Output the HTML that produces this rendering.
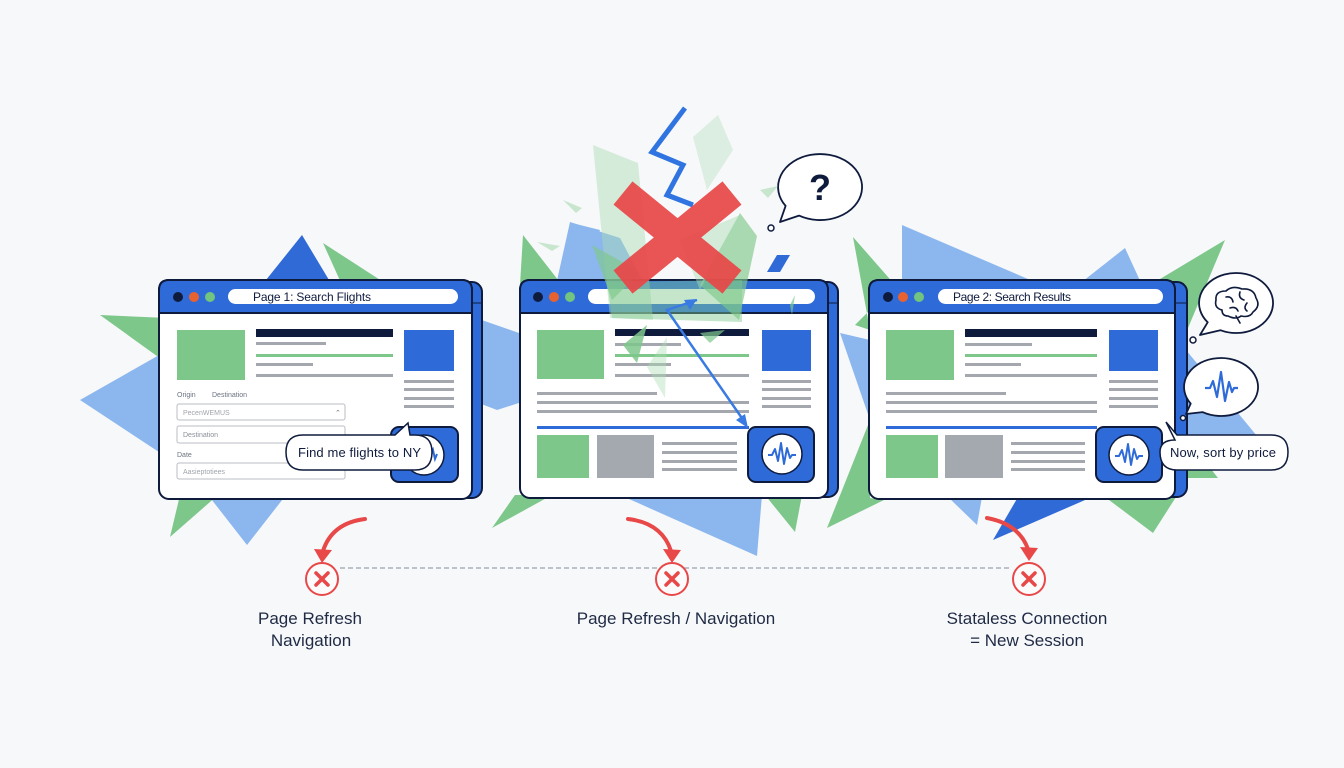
<!DOCTYPE html>
<html><head><meta charset="utf-8"><style>
html,body{margin:0;padding:0;background:#f7f8fa;}
svg{display:block;}
text{font-family:"Liberation Sans",sans-serif;}
</style></head><body>
<svg width="1344" height="768" viewBox="0 0 1344 768" xmlns="http://www.w3.org/2000/svg">
<rect width="1344" height="768" fill="#f7f8fa"/>

<!-- ===== background shards: left ===== -->
<polygon points="100,315 168,318 168,364" fill="#7ec78b"/>
<polygon points="80,400 168,350 168,458" fill="#8cb7ee"/>
<polygon points="302,235 262,285 332,285" fill="#2f6ad6"/>
<polygon points="323,243 388,285 342,285" fill="#7ec78b"/>
<polygon points="170,537 180,495 218,495" fill="#7ec78b"/>
<polygon points="247,545 208,495 286,495" fill="#8cb7ee"/>
<polygon points="476,318 522,334 522,402 497,410 476,402" fill="#8cb7ee"/>

<!-- ===== background shards: middle ===== -->
<polygon points="523,235 562,285 520,285" fill="#7ec78b"/>
<polygon points="570,222 620,238 645,285 556,285" fill="#8cb7ee"/>
<polygon points="572,223 600,230 590,260" fill="#8cb7ee"/>
<polygon points="620,495 762,495 757,556" fill="#8cb7ee"/>
<polygon points="492,528 515,495 552,495" fill="#7ec78b"/>
<polygon points="765,495 802,495 795,532" fill="#7ec78b"/>

<!-- ===== background shards: right ===== -->
<polygon points="853,237 895,285 855,325 870,330" fill="#7ec78b"/>
<polygon points="902,225 1042,285 902,285" fill="#8cb7ee"/>
<polygon points="1125,248 1142,285 1078,285" fill="#8cb7ee"/>
<polygon points="1225,240 1150,285 1188,328" fill="#7ec78b"/>
<polygon points="840,333 870,340 870,420" fill="#8cb7ee"/>
<polygon points="827,528 870,420 870,498 884,500" fill="#7ec78b"/>
<polygon points="1186,350 1257,436 1188,440" fill="#8cb7ee"/>
<polygon points="1186,437 1218,478 1186,478" fill="#7ec78b"/>
<polygon points="993,540 1018,497 1092,497" fill="#2f6ad6"/>
<polygon points="948,497 982,497 977,525" fill="#8cb7ee"/>
<polygon points="1153,533 1105,497 1176,497" fill="#7ec78b"/>

<!-- ===== LEFT BROWSER ===== -->
<rect x="167" y="282" width="315" height="216" rx="10" fill="#2e6bd9" stroke="#0f1b3d" stroke-width="2"/>
<line x1="472" y1="303" x2="481" y2="303" stroke="#0f1b3d" stroke-width="1"/>
<rect x="159" y="280" width="313" height="219" rx="10" fill="#ffffff" stroke="#0f1b3d" stroke-width="2"/>
<path d="M159,313 V290 Q159,280 169,280 H462 Q472,280 472,290 V313 Z" fill="#2e6bd9" stroke="#0f1b3d" stroke-width="2"/>
<circle cx="178" cy="297" r="5" fill="#0f1b3d"/>
<circle cx="194" cy="297" r="5" fill="#e8622f"/>
<circle cx="210" cy="297" r="5" fill="#72c47f"/>
<rect x="228" y="289" width="230" height="15" rx="7.5" fill="#ffffff"/>
<text x="253" y="301" font-size="12" fill="#0f1b3d" textLength="118">Page 1: Search Flights</text>

<rect x="177" y="330" width="68" height="50" fill="#7ec78b"/>
<rect x="256" y="329" width="137" height="8" fill="#0f1b3d"/>
<rect x="256" y="342" width="70" height="3" fill="#a4a8ae"/>
<rect x="256" y="354" width="137" height="3" fill="#7ec78b"/>
<rect x="256" y="363" width="57" height="3" fill="#a4a8ae"/>
<rect x="256" y="374" width="137" height="3" fill="#a4a8ae"/>
<rect x="404" y="330" width="50" height="41" fill="#2e6bd9"/>
<rect x="404" y="380" width="50" height="3" fill="#a4a8ae"/>
<rect x="404" y="388" width="50" height="3" fill="#a4a8ae"/>
<rect x="404" y="397" width="50" height="3" fill="#a4a8ae"/>
<rect x="404" y="405" width="50" height="3" fill="#a4a8ae"/>

<text x="177" y="397" font-size="7" fill="#6b7280">Origin</text>
<text x="212" y="397" font-size="7" fill="#6b7280">Destination</text>
<rect x="177" y="404" width="168" height="16" rx="2" fill="#fff" stroke="#b9bec5" stroke-width="1"/>
<text x="183" y="415" font-size="7" fill="#a0a5ab">PecenWEMUS</text>
<text x="335" y="415" font-size="7" fill="#6b7280">⌃</text>
<rect x="177" y="426" width="168" height="17" rx="2" fill="#fff" stroke="#b9bec5" stroke-width="1"/>
<text x="183" y="437" font-size="7" fill="#8a9097">Destination</text>
<text x="177" y="457" font-size="7" fill="#6b7280">Date</text>
<rect x="177" y="463" width="168" height="16" rx="2" fill="#fff" stroke="#b9bec5" stroke-width="1"/>
<text x="183" y="474" font-size="7" fill="#a0a5ab">Aasieptotiees</text>

<rect x="391" y="427" width="67" height="55" rx="8" fill="#2e6bd9" stroke="#0f1b3d" stroke-width="2"/>
<circle cx="424" cy="455" r="20" fill="#fff" stroke="#0f1b3d" stroke-width="1.5"/>
<polyline points="428,455 431,455 433,450 435,459 437,454" fill="none" stroke="#2e6bd9" stroke-width="2"/>
<path d="M303,435 H395 L408,423 L410,435 H415 Q432,435 432,452 Q432,470 415,470 H303 Q286,470 286,452 Q286,435 303,435 Z" fill="#fff" stroke="#0f1b3d" stroke-width="1.5"/>
<text x="298" y="457" font-size="13" fill="#0f1b3d" textLength="123">Find me flights to NY</text>

<!-- ===== MIDDLE BROWSER ===== -->
<rect x="527" y="282" width="311" height="215" rx="10" fill="#2e6bd9" stroke="#0f1b3d" stroke-width="2"/>
<line x1="828" y1="303" x2="837" y2="303" stroke="#0f1b3d" stroke-width="1"/>
<rect x="520" y="280" width="308" height="218" rx="10" fill="#fff" stroke="#0f1b3d" stroke-width="2"/>
<path d="M520,313 V290 Q520,280 530,280 H818 Q828,280 828,290 V313 Z" fill="#2e6bd9" stroke="#0f1b3d" stroke-width="2"/>
<circle cx="538" cy="297" r="5" fill="#0f1b3d"/>
<circle cx="554" cy="297" r="5" fill="#e8622f"/>
<circle cx="570" cy="297" r="5" fill="#72c47f"/>
<rect x="588" y="289" width="227" height="15" rx="7.5" fill="#fff"/>
<g transform="translate(520,0)">
<rect x="17" y="330" width="67" height="49" fill="#7ec78b"/>
<rect x="95" y="329" width="134" height="7" fill="#0f1b3d"/>
<rect x="95" y="343" width="66" height="3" fill="#a4a8ae"/>
<rect x="95" y="354" width="134" height="3" fill="#7ec78b"/>
<rect x="95" y="363" width="56" height="3" fill="#a4a8ae"/>
<rect x="95" y="374" width="134" height="3" fill="#a4a8ae"/>
<rect x="242" y="330" width="49" height="41" fill="#2e6bd9"/>
<rect x="242" y="380" width="49" height="3" fill="#a4a8ae"/>
<rect x="242" y="388" width="49" height="3" fill="#a4a8ae"/>
<rect x="242" y="397" width="49" height="3" fill="#a4a8ae"/>
<rect x="242" y="405" width="49" height="3" fill="#a4a8ae"/>
<rect x="17" y="392" width="120" height="3" fill="#a4a8ae"/>
<rect x="17" y="401" width="212" height="3" fill="#a4a8ae"/>
<rect x="17" y="410" width="212" height="3" fill="#a4a8ae"/>
<rect x="17" y="426" width="212" height="3" fill="#2e6bd9"/>
<rect x="17" y="435" width="52" height="43" fill="#7ec78b"/>
<rect x="77" y="435" width="57" height="43" fill="#a4a9b0"/>
<rect x="142" y="442" width="75" height="3" fill="#a4a8ae"/>
<rect x="142" y="451" width="75" height="3" fill="#a4a8ae"/>
<rect x="142" y="460" width="75" height="3" fill="#a4a8ae"/>
<rect x="142" y="468" width="75" height="3" fill="#a4a8ae"/>
<rect x="228" y="427" width="66" height="55" rx="8" fill="#2e6bd9" stroke="#0f1b3d" stroke-width="2"/>
<circle cx="262" cy="454" r="20" fill="#fff" stroke="#0f1b3d" stroke-width="1.5"/>
<polyline points="248,455 252,455 255,449 258,461 261,443 264,464 267,448 270,458 272,455 276,455" fill="none" stroke="#2e6bd9" stroke-width="2" stroke-linejoin="round"/>
</g>

<!-- ===== RIGHT BROWSER ===== -->
<rect x="876" y="282" width="311" height="215" rx="10" fill="#2e6bd9" stroke="#0f1b3d" stroke-width="2"/>
<line x1="1175" y1="303" x2="1186" y2="303" stroke="#0f1b3d" stroke-width="1"/>
<rect x="869" y="280" width="306" height="219" rx="10" fill="#fff" stroke="#0f1b3d" stroke-width="2"/>
<path d="M869,313 V290 Q869,280 879,280 H1165 Q1175,280 1175,290 V313 Z" fill="#2e6bd9" stroke="#0f1b3d" stroke-width="2"/>
<circle cx="888" cy="297" r="5" fill="#0f1b3d"/>
<circle cx="903" cy="297" r="5" fill="#e8622f"/>
<circle cx="919" cy="297" r="5" fill="#72c47f"/>
<rect x="938" y="289" width="225" height="15" rx="7.5" fill="#fff"/>
<text x="953" y="301" font-size="12" fill="#0f1b3d" textLength="118">Page 2: Search Results</text>
<g transform="translate(869,0)">
<rect x="17" y="330" width="68" height="50" fill="#7ec78b"/>
<rect x="96" y="329" width="132" height="8" fill="#0f1b3d"/>
<rect x="96" y="343" width="67" height="3" fill="#a4a8ae"/>
<rect x="96" y="354" width="132" height="3" fill="#7ec78b"/>
<rect x="96" y="363" width="56" height="3" fill="#a4a8ae"/>
<rect x="96" y="374" width="132" height="3" fill="#a4a8ae"/>
<rect x="240" y="330" width="49" height="41" fill="#2e6bd9"/>
<rect x="240" y="380" width="49" height="3" fill="#a4a8ae"/>
<rect x="240" y="388" width="49" height="3" fill="#a4a8ae"/>
<rect x="240" y="397" width="49" height="3" fill="#a4a8ae"/>
<rect x="240" y="405" width="49" height="3" fill="#a4a8ae"/>
<rect x="17" y="392" width="120" height="3" fill="#a4a8ae"/>
<rect x="17" y="401" width="211" height="3" fill="#a4a8ae"/>
<rect x="17" y="410" width="211" height="3" fill="#a4a8ae"/>
<rect x="17" y="426" width="211" height="3" fill="#2e6bd9"/>
<rect x="17" y="435" width="52" height="43" fill="#7ec78b"/>
<rect x="76" y="435" width="58" height="43" fill="#a4a9b0"/>
<rect x="142" y="442" width="74" height="3" fill="#a4a8ae"/>
<rect x="142" y="451" width="74" height="3" fill="#a4a8ae"/>
<rect x="142" y="460" width="74" height="3" fill="#a4a8ae"/>
<rect x="142" y="468" width="74" height="3" fill="#a4a8ae"/>
<rect x="227" y="427" width="66" height="55" rx="8" fill="#2e6bd9" stroke="#0f1b3d" stroke-width="2"/>
<circle cx="260" cy="455" r="20" fill="#fff" stroke="#0f1b3d" stroke-width="1.5"/>
<polyline points="246,456 250,456 253,450 256,462 259,444 262,465 265,449 268,459 270,456 274,456" fill="none" stroke="#2e6bd9" stroke-width="2" stroke-linejoin="round"/>
</g>
<path d="M1177,435 L1166,422 L1175,440 Q1160,440 1160,452 Q1160,470 1177,470 H1271 Q1288,470 1288,452 Q1288,435 1271,435 Z" fill="#fff" stroke="#0f1b3d" stroke-width="1.5"/>
<text x="1170" y="457" font-size="13" fill="#0f1b3d" textLength="106">Now, sort by price</text>

<!-- brain bubble -->
<path d="M1207.7,322.3 L1200,335 L1220.4,330.2 A37,30 0 1,0 1207.7,322.3 Z" fill="#fff" stroke="#0f1b3d" stroke-width="1.8" stroke-linejoin="round"/>
<circle cx="1193" cy="340" r="3" fill="#fff" stroke="#0f1b3d" stroke-width="1.5"/>
<g fill="none" stroke="#0f1b3d" stroke-width="1.6" stroke-linecap="round">
<path d="M1222,310 Q1214,308 1216,300 Q1215,291 1226,291 Q1232,285 1242,289 Q1254,288 1256,298 Q1261,306 1253,312 Q1250,318 1241,316 Q1236,320 1228,316 Q1222,316 1222,310 Z"/>
<path d="M1236,316 L1240,323"/>
<path d="M1226,297 Q1232,296 1233,302"/>
<path d="M1240,292 Q1238,298 1244,300"/>
<path d="M1247,303 Q1243,308 1247,311"/>
<path d="M1230,308 Q1236,306 1238,311"/>
</g>

<!-- wave bubble -->
<path d="M1190.7,403.6 L1186,414 L1202.5,412.1 A37,29 0 1,0 1190.7,403.6 Z" fill="#fff" stroke="#0f1b3d" stroke-width="1.8" stroke-linejoin="round"/>
<circle cx="1183" cy="418" r="2.5" fill="#fff" stroke="#0f1b3d" stroke-width="1.5"/>
<polyline points="1205,388 1210,388 1213,381 1217,397 1221,372 1225,401 1229,382 1232,392 1234,388 1238,388" fill="none" stroke="#2e6bd9" stroke-width="2.2" stroke-linejoin="round"/>

<!-- question bubble -->
<path d="M785.6,205.9 L780,222 L799,215.6 A42,33 0 1,0 785.6,205.9 Z" fill="#fff" stroke="#0f1b3d" stroke-width="1.8" stroke-linejoin="round"/>
<circle cx="771" cy="228" r="3" fill="#fff" stroke="#0f1b3d" stroke-width="1.5"/>
<text x="820" y="200" font-size="36" font-weight="bold" fill="#0f1b3d" text-anchor="middle">?</text>

<!-- ===== chaos over middle browser ===== -->
<polygon points="593,145 638,163 653,320 610,318" fill="#a9dbb1" opacity="0.45"/>
<polygon points="693,137 718,115 733,150 707,190" fill="#a9dbb1" opacity="0.35"/>
<polygon points="563,200 582,208 576,213" fill="#a9dbb1" opacity="0.6"/>
<polygon points="537,242 560,246 552,251" fill="#a9dbb1" opacity="0.6"/>
<polygon points="760,190 778,186 768,198" fill="#a9dbb1" opacity="0.6"/>
<polyline points="685,108 652,152 683,165 667,195 693,205" fill="none" stroke="#2f74e0" stroke-width="5" stroke-linejoin="miter"/>
<polygon points="607,282 742,280 742,322 612,318" fill="#7ec78b" opacity="0.45"/>
<polygon points="592,245 640,272 612,300" fill="#7ec78b" opacity="0.65"/>
<polygon points="740,213 757,236 739,320 700,285" fill="#7ec78b" opacity="0.65"/>
<polygon points="680,240 740,215 700,290" fill="#a9dbb1" opacity="0.45"/>
<polygon points="623,345 647,325 637,363" fill="#7ec78b" opacity="0.85"/>
<polygon points="647,367 667,337 665,398" fill="#a9dbb1" opacity="0.4"/>
<polygon points="700,333 725,330 710,343" fill="#7ec78b" opacity="0.7"/>
<polygon points="790,305 795,295 792,315" fill="#7ec78b" opacity="0.7"/>
<g stroke="#e84848" stroke-width="30" opacity="0.93">
<line x1="623" y1="193" x2="732" y2="282"/>
<line x1="732" y1="193" x2="623" y2="282"/>
</g>
<polygon points="777,255 790,255 780,272 767,272" fill="#2f6ad6"/>
<polyline points="697,300 667,310 746,424" fill="none" stroke="#3a7ae3" stroke-width="2.5"/>
<polygon points="748,428 736,420 745,414" fill="#3a7ae3"/>
<polygon points="697,299 684,300 690,310" fill="#3a7ae3"/>

<!-- ===== bottom timeline ===== -->
<line x1="340" y1="568" x2="1012" y2="568" stroke="#9ca3af" stroke-width="1.2" stroke-dasharray="5,3"/>
<g fill="none" stroke="#e84848" stroke-width="4" stroke-linecap="round">
<path d="M365,519 Q332,523 323,551"/>
<path d="M628,519 Q662,523 671,551"/>
<path d="M987,518 Q1019,524 1028,549"/>
</g>
<g fill="#e84848">
<polygon points="314,549 332,550 322,563"/>
<polygon points="663,549 681,550 672,563"/>
<polygon points="1020,547 1038,548 1029,561"/>
</g>
<g fill="#fbfbfc" stroke="#e84848" stroke-width="2">
<circle cx="322" cy="579" r="16"/>
<circle cx="672" cy="579" r="16"/>
<circle cx="1029" cy="579" r="16"/>
</g>
<g stroke="#e84848" stroke-width="3.5" stroke-linecap="round">
<line x1="316" y1="573" x2="328" y2="585"/><line x1="328" y1="573" x2="316" y2="585"/>
<line x1="666" y1="573" x2="678" y2="585"/><line x1="678" y1="573" x2="666" y2="585"/>
<line x1="1023" y1="573" x2="1035" y2="585"/><line x1="1035" y1="573" x2="1023" y2="585"/>
</g>
<g font-size="17" fill="#1f2a44" text-anchor="middle">
<text x="310" y="624">Page Refresh</text>
<text x="311" y="646">Navigation</text>
<text x="676" y="624">Page Refresh / Navigation</text>
<text x="1027" y="624">Stataless Connection</text>
<text x="1027" y="646">= New Session</text>
</g>
</svg>
</body></html>
